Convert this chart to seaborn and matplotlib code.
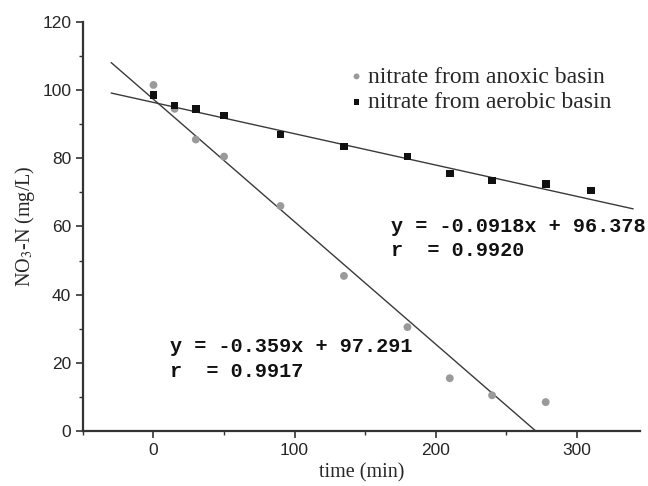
import numpy as np
import pandas as pd
import matplotlib
matplotlib.use("Agg")
import matplotlib.pyplot as plt
from matplotlib.ticker import MultipleLocator
import seaborn as sns

anoxic_time = [0, 15, 30, 50, 90, 135, 180, 210, 240, 278]
anoxic_no3 = [101.5, 94.5, 85.5, 80.5, 66, 45.5, 30.5, 15.5, 10.5, 8.5]

aerobic_time = [0, 15, 30, 50, 90, 135, 180, 210, 240, 278, 310]
aerobic_no3 = [98.5, 95.5, 94.5, 92.5, 87, 83.5, 80.5, 75.5, 73.5, 72.5, 70.5]

# linear fits as printed on the chart
anoxic_fit = (-0.359, 97.291, 0.9917)
aerobic_fit = (-0.0918, 96.378, 0.9920)
fit_range = [-30, 340]

sns.set_style("ticks")
plt.rcParams['font.family'] = ['Liberation Sans', 'DejaVu Sans']
plt.rcParams['mathtext.fontset'] = 'stix'

fig = plt.figure(figsize=(6.48, 4.86), dpi=100)
ax = fig.add_axes([0.128, 0.113, 0.860, 0.842])

# fitted lines
for slope, icpt, _ in [anoxic_fit, aerobic_fit]:
    xs = np.array(fit_range, dtype=float)
    line_df = pd.DataFrame({"x": xs, "y": slope * xs + icpt})
    sns.lineplot(data=line_df, x="x", y="y", ax=ax, color="#3a3a3a", lw=1.0)

sns.scatterplot(x=anoxic_time, y=anoxic_no3, ax=ax, marker="o", s=32,
                color="#9a9a9a", edgecolor="none", label="nitrate from anoxic basin",
                zorder=3)
sns.scatterplot(x=aerobic_time, y=aerobic_no3, ax=ax, marker="s", s=30,
                color="#111111", edgecolor="none", label="nitrate from aerobic basin",
                zorder=3)

ax.set_xlim(-50, 345)
ax.set_ylim(0, 120)
ax.xaxis.set_major_locator(MultipleLocator(100))
ax.xaxis.set_minor_locator(MultipleLocator(50))
ax.yaxis.set_major_locator(MultipleLocator(20))
ax.yaxis.set_minor_locator(MultipleLocator(10))
ax.tick_params(which="major", length=5, width=1.2, labelsize=12.5, color="#333333")
ax.tick_params(which="minor", length=3, width=1.0, color="#333333")
sns.despine(ax=ax)
for sp in ["left", "bottom"]:
    ax.spines[sp].set_linewidth(1.6)
    ax.spines[sp].set_color("#333333")

ax.set_xlabel("time (min)", family="Liberation Serif", fontsize=14.5)
ax.set_ylabel(r"NO$_3$-N (mg/L)", family="Liberation Serif", fontsize=14.5)

leg = ax.legend(loc="upper left", bbox_to_anchor=(0.474, 0.892), frameon=False,
                prop={"family": "Liberation Serif", "size": 17},
                handletextpad=0.1, handlelength=0.8, labelspacing=0.16,
                markerscale=0.75, borderaxespad=0, borderpad=0)

# equations
eq_font = dict(family="Liberation Mono", weight="bold", fontsize=14.5, color="#111111")
ax.text(11.5, 27.5,
        "y = %.3fx + %.3f\nr  = %.4f" % anoxic_fit, linespacing=1.35, va="top", **eq_font)
ax.text(168, 62.8,
        "y = %.4fx + %.3f\nr  = %.4f" % aerobic_fit, linespacing=1.35, va="top", **eq_font)

fig.savefig("out.png", dpi=100)
